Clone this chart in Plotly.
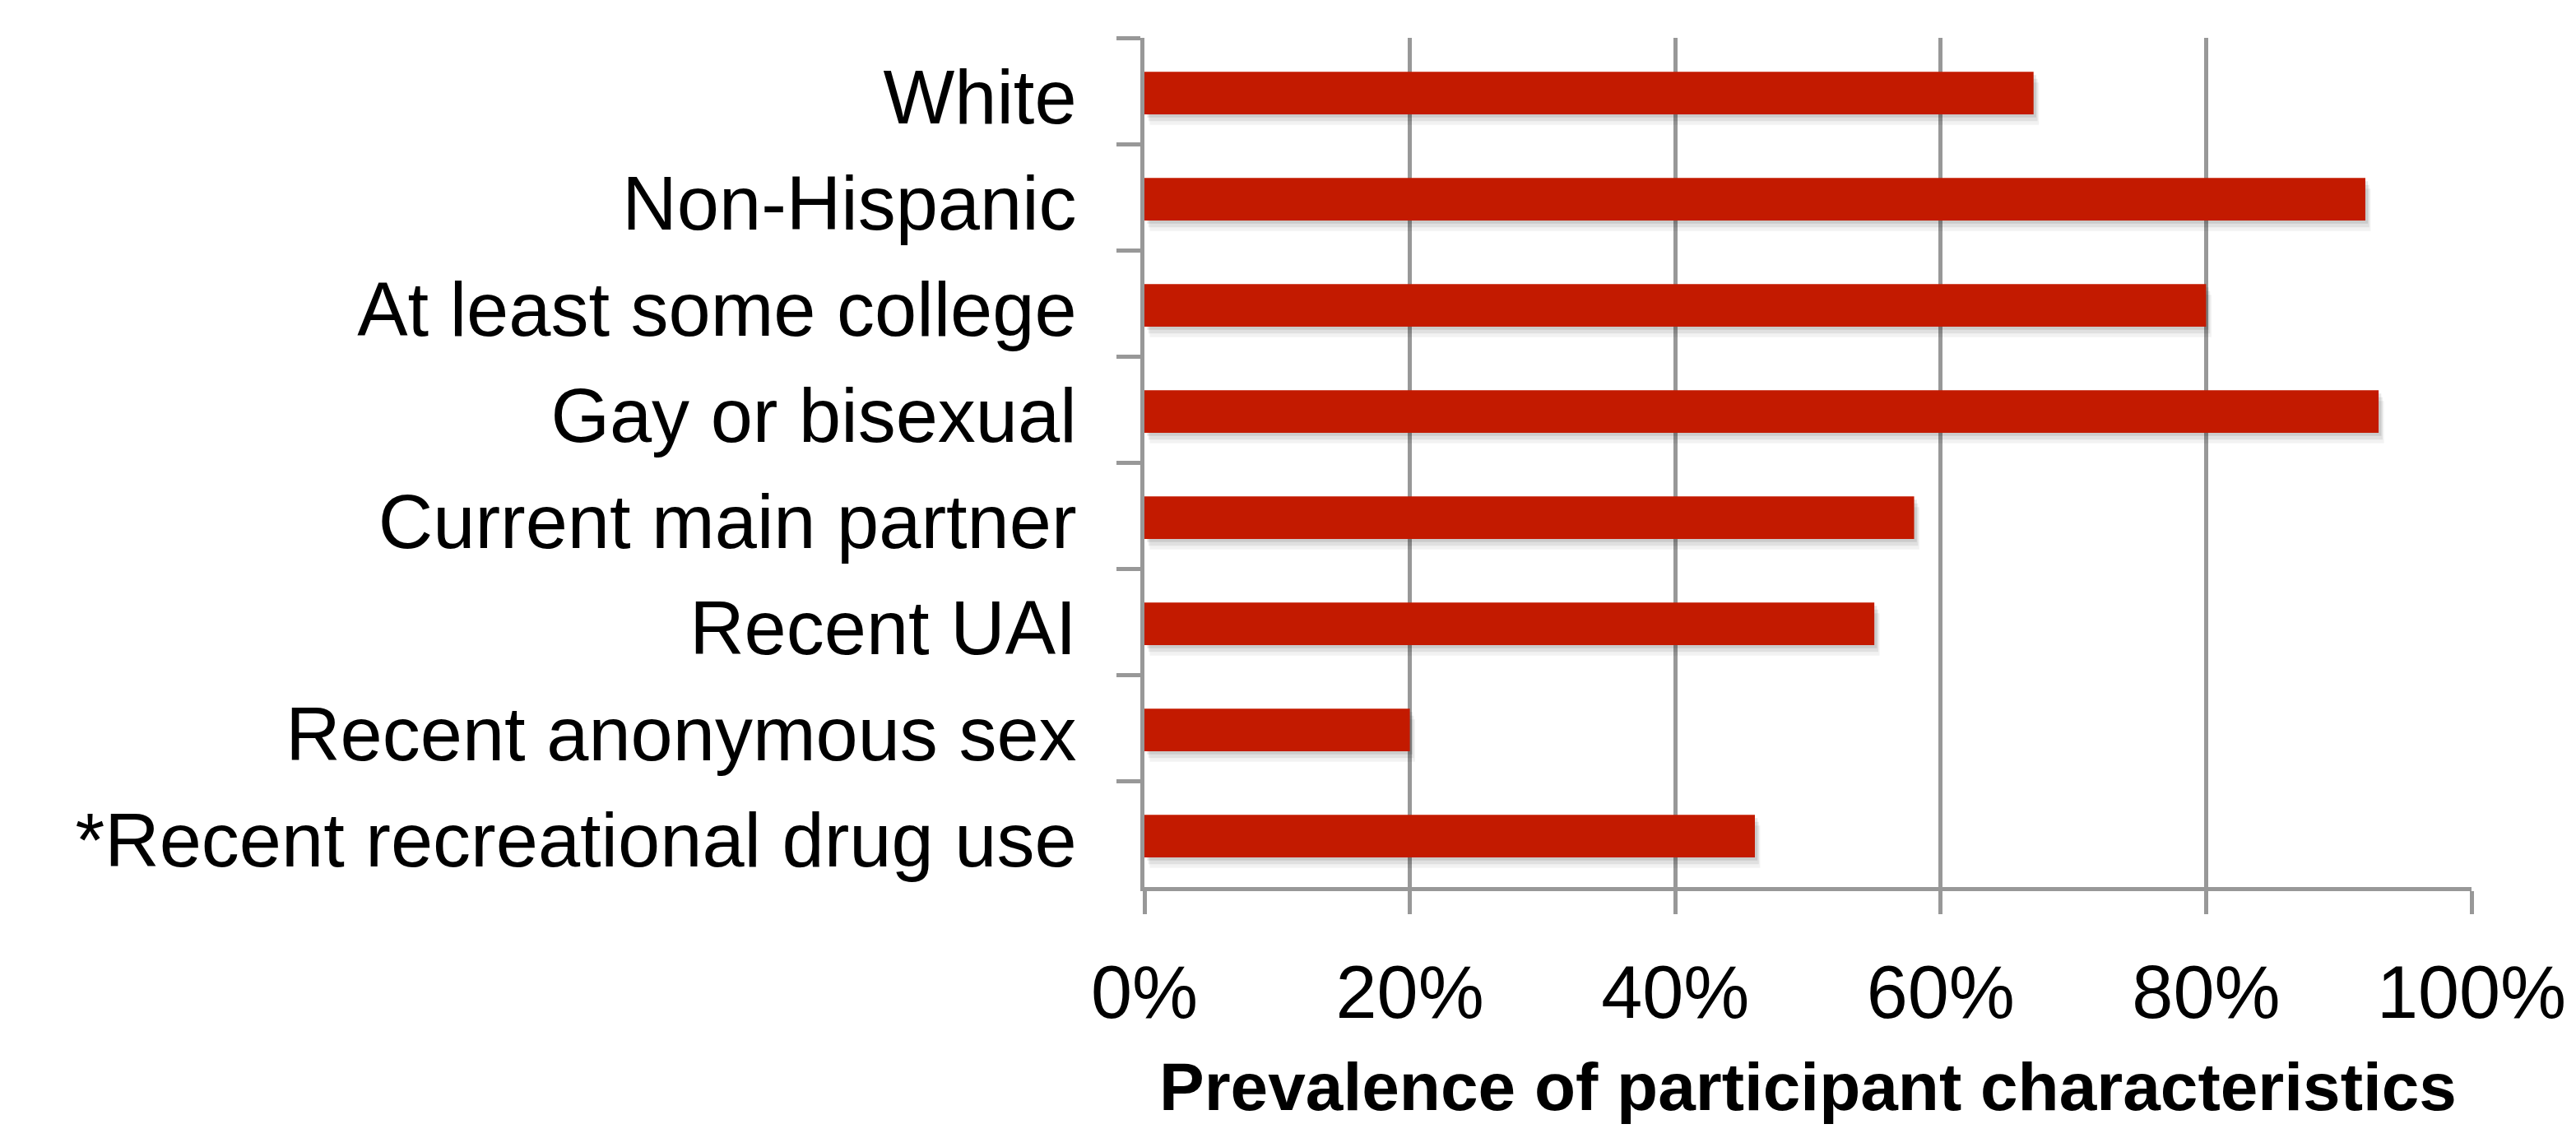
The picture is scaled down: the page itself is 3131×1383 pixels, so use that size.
import plotly.graph_objects as go

categories = [
    "White",
    "Non-Hispanic",
    "At least some college",
    "Gay or bisexual",
    "Current main partner",
    "Recent UAI",
    "Recent anonymous sex",
    "*Recent recreational drug use",
]
prevalence = [0.67, 0.92, 0.80, 0.93, 0.58, 0.55, 0.20, 0.46]
x_ticks = [0, 0.2, 0.4, 0.6, 0.8, 1.0]
x_tick_labels = ["0%", "20%", "40%", "60%", "80%", "100%"]
x_title = "Prevalence of participant characteristics"

BAR_COLOR = "#C31A00"
AXIS_GRAY = "#989898"
FONT = "Liberation Sans, Arial, Helvetica, sans-serif"
BAR_W = 0.40

fig = go.Figure()

# soft drop shadow (same data, drawn under the bars)
for dy, dx, alpha in [(0.12, 0.004, 0.05), (0.085, 0.003, 0.07), (0.05, 0.002, 0.09)]:
    fig.add_trace(go.Bar(
        y=categories, x=prevalence, orientation="h",
        base=dx, width=BAR_W, offset=-BAR_W / 2 + dy,
        marker=dict(color=f"rgba(0,0,0,{alpha})", line=dict(width=0)),
        hoverinfo="skip", showlegend=False,
    ))

fig.add_trace(go.Bar(
    y=categories, x=prevalence, orientation="h",
    width=BAR_W, offset=-BAR_W / 2 + 0.02,
    marker=dict(color=BAR_COLOR, line=dict(width=0)),
    showlegend=False,
))

fig.update_layout(
    width=3131, height=1383,
    margin=dict(l=1391, r=127, t=46, b=305, pad=0),
    paper_bgcolor="white", plot_bgcolor="white",
    barmode="overlay",
    font=dict(family=FONT, color="black", size=90),
    annotations=[dict(
        text=f"<b>{x_title}</b>", xref="paper", yref="paper",
        x=0.5, y=-0.235, xanchor="center", yanchor="middle",
        showarrow=False, font=dict(size=82, family=FONT, color="black"),
    )],
)

fig.update_xaxes(
    range=[0, 1], tickvals=x_ticks, ticktext=x_tick_labels,
    showgrid=True, gridcolor=AXIS_GRAY, gridwidth=5,
    showline=True, linecolor=AXIS_GRAY, linewidth=5,
    ticks="outside", ticklen=28, tickwidth=5, tickcolor=AXIS_GRAY,
    tickfont=dict(size=90, family=FONT, color="black"),
    ticklabelstandoff=18,
    zeroline=False,
)

fig.update_yaxes(
    type="category", categoryorder="array", categoryarray=categories,
    autorange="reversed",
    showgrid=False,
    showline=True, linecolor=AXIS_GRAY, linewidth=5,
    ticks="outside", tickson="boundaries", ticklen=29, tickwidth=5, tickcolor=AXIS_GRAY,
    tickfont=dict(size=92, family=FONT, color="black"),
    ticklabelstandoff=59,
    ticklabelshift=-7,
    zeroline=False,
)

fig.write_html("out.html")
